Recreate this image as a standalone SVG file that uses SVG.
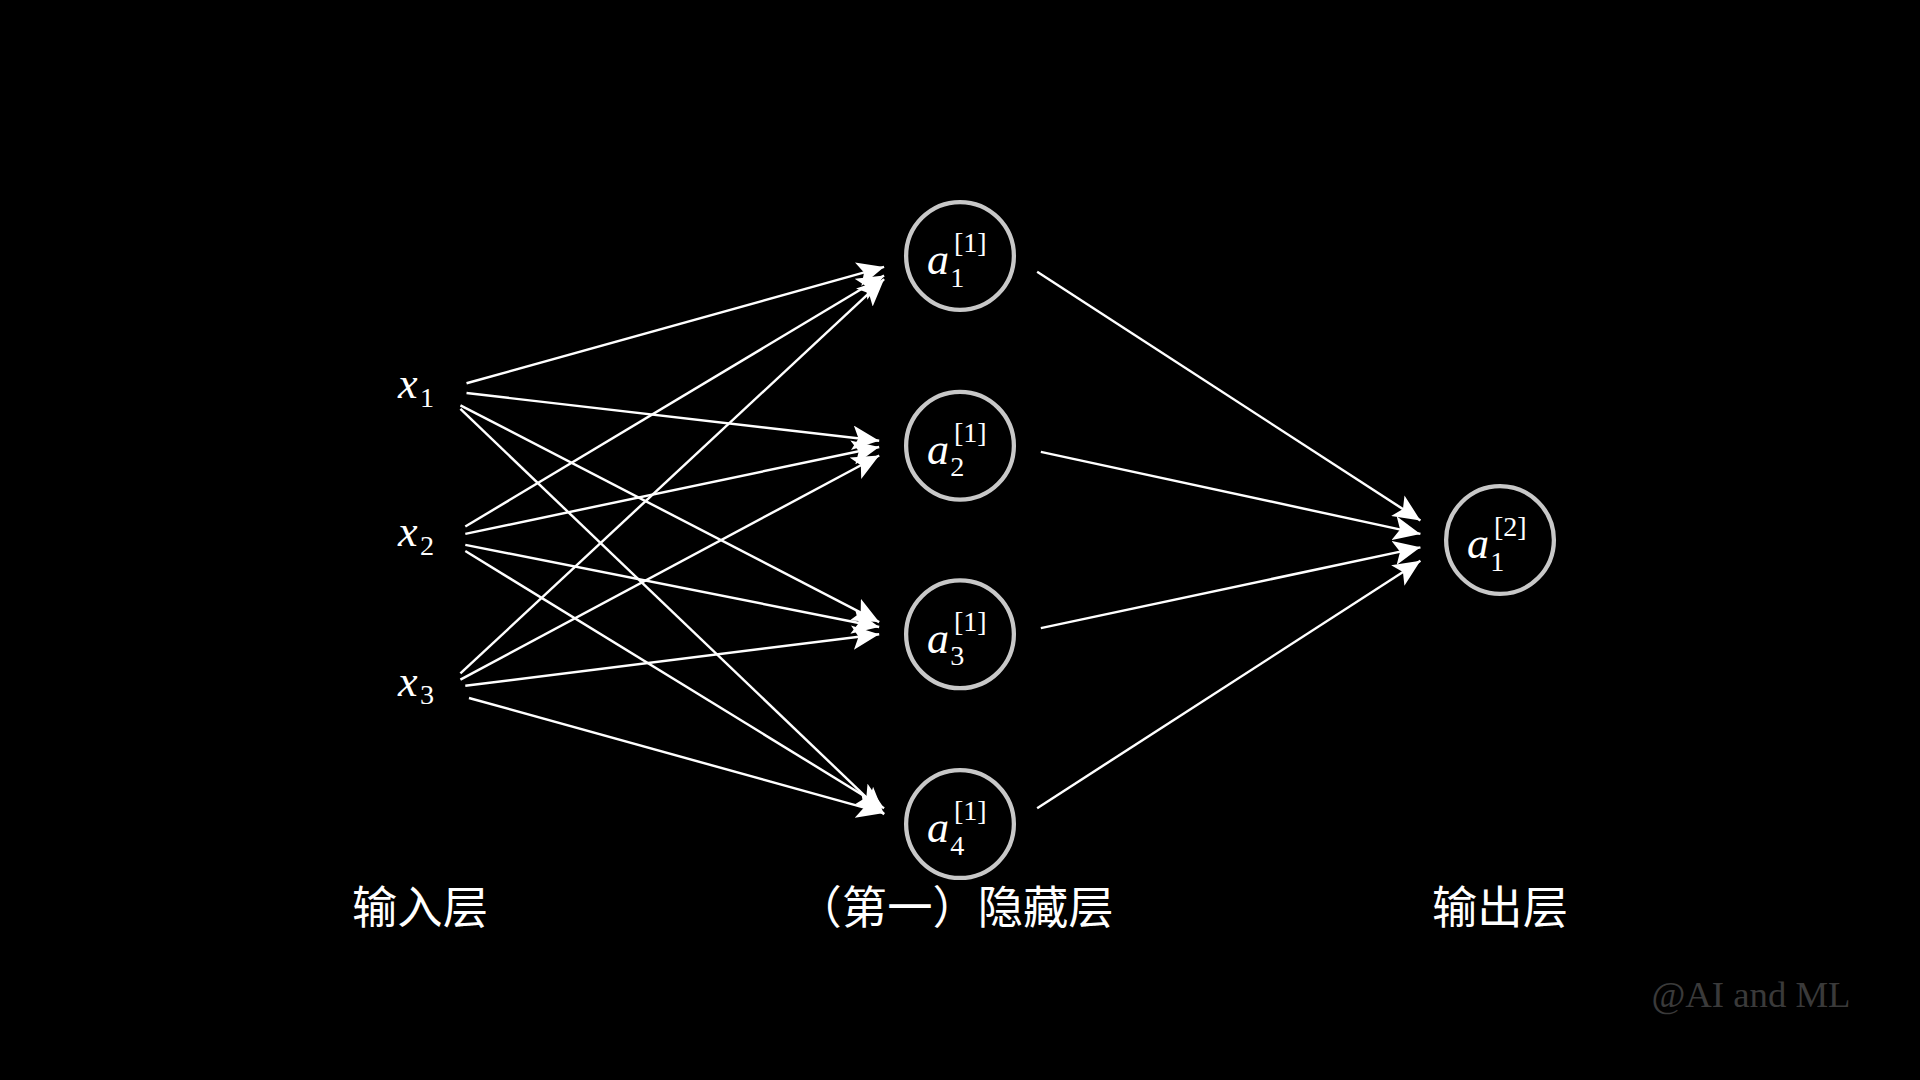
<svg xmlns="http://www.w3.org/2000/svg" width="1920" height="1080" viewBox="0 0 1920 1080">
<style>
.e{stroke:#fff;stroke-width:2;fill:none;marker-end:url(#ah)}
.n{fill:none;stroke:#c8c8c8;stroke-width:3.5}
.m{font-family:"Liberation Serif",serif;fill:#fff}
.i{font-style:italic;font-size:36px}
.s{font-size:23px}
.l{font-family:"Noto Sans CJK SC",sans-serif;font-size:37px;fill:#fff;text-anchor:middle}
</style>
<defs><marker id="ah" markerUnits="userSpaceOnUse" markerWidth="24" markerHeight="20" refX="22" refY="10" orient="auto"><path d="M0,0 L22,10 L0,20 L5,10 Z" fill="#fff"/></marker></defs>
<rect width="1920" height="1080" fill="#000"/>
<g transform="scale(1.2245)">
<g id="edges">
<line class="e" x1="381" y1="313" x2="722" y2="218"/>
<line class="e" x1="381" y1="321" x2="718" y2="360"/>
<line class="e" x1="376" y1="331" x2="718" y2="508"/>
<line class="e" x1="376" y1="334" x2="722" y2="665"/>
<line class="e" x1="380" y1="430" x2="722" y2="225"/>
<line class="e" x1="380" y1="436" x2="718" y2="365"/>
<line class="e" x1="380" y1="445" x2="718" y2="512"/>
<line class="e" x1="380" y1="450" x2="722" y2="660"/>
<line class="e" x1="376" y1="550" x2="722" y2="228"/>
<line class="e" x1="376" y1="555" x2="718" y2="372"/>
<line class="e" x1="380" y1="560" x2="718" y2="518"/>
<line class="e" x1="383" y1="570" x2="722" y2="664"/>
<line class="e" x1="847" y1="222" x2="1160" y2="425"/>
<line class="e" x1="850" y1="369" x2="1160" y2="436"/>
<line class="e" x1="850" y1="513" x2="1160" y2="447"/>
<line class="e" x1="847" y1="660" x2="1160" y2="458"/>
</g>
<g id="x1"><text class="m i" x="325" y="325">x</text><text class="m s" x="343" y="332">1</text></g>
<g id="x2"><text class="m i" x="325" y="446">x</text><text class="m s" x="343" y="453">2</text></g>
<g id="x3"><text class="m i" x="325" y="568">x</text><text class="m s" x="343" y="575">3</text></g>
<g id="h1"><circle class="n" cx="784" cy="209" r="44"/><text class="m i" x="757" y="224">a</text><text class="m s" x="779" y="206">[1]</text><text class="m s" x="776" y="234">1</text></g>
<g id="h2"><circle class="n" cx="784" cy="364" r="44"/><text class="m i" x="757" y="379">a</text><text class="m s" x="779" y="361">[1]</text><text class="m s" x="776" y="389">2</text></g>
<g id="h3"><circle class="n" cx="784" cy="518" r="44"/><text class="m i" x="757" y="533">a</text><text class="m s" x="779" y="515">[1]</text><text class="m s" x="776" y="543">3</text></g>
<g id="h4"><circle class="n" cx="784" cy="673" r="44"/><text class="m i" x="757" y="688">a</text><text class="m s" x="779" y="670">[1]</text><text class="m s" x="776" y="698">4</text></g>
<g id="o1"><circle class="n" cx="1225" cy="441" r="44"/><text class="m i" x="1198" y="456">a</text><text class="m s" x="1220" y="438">[2]</text><text class="m s" x="1217" y="466">1</text></g>
<text class="l" x="343" y="755">输入层</text>
<text class="l" x="780" y="755">（第一）隐藏层</text>
<text class="l" x="1225" y="755">输出层</text>
<text x="1430" y="822" font-family="Liberation Serif,serif" font-size="30" fill="#3a3a3a" text-anchor="middle">@AI and ML</text>
</g>
</svg>
